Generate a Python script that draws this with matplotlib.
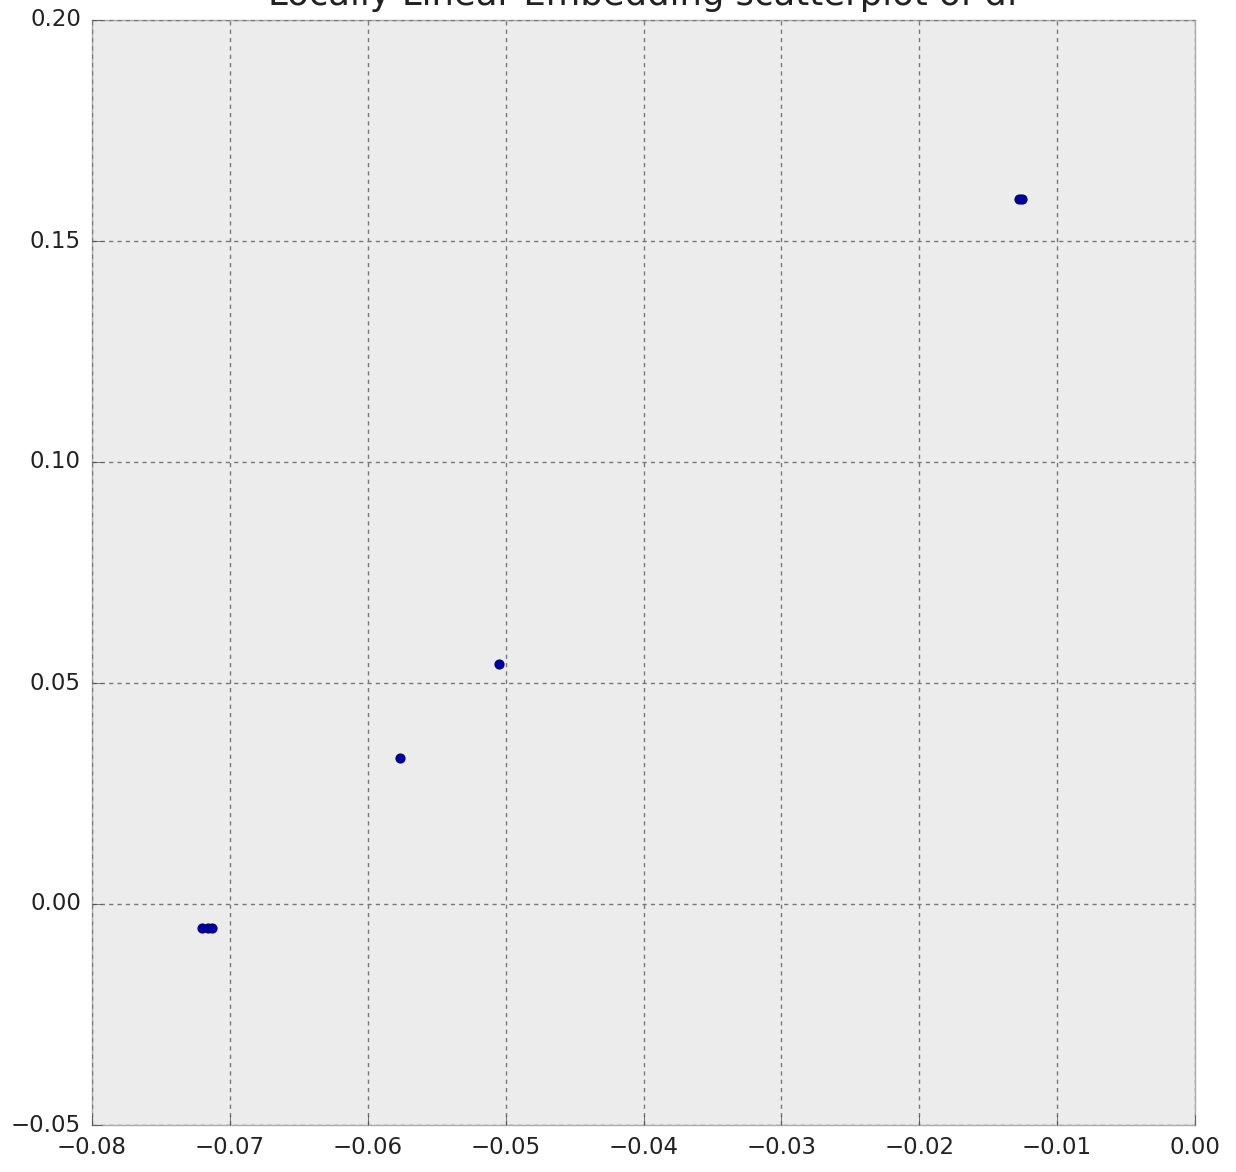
import matplotlib
matplotlib.use("Agg")
import matplotlib.pyplot as plt

# embedded coordinates
lle_x = [-0.0720, -0.0716, -0.0713, -0.05766, -0.05048, -0.0128, -0.01255]
lle_y = [-0.0054, -0.0054, -0.0054, 0.0330, 0.0543, 0.1595, 0.1595]

x_ticks = [-0.08, -0.07, -0.06, -0.05, -0.04, -0.03, -0.02, -0.01, 0.00]
y_ticks = [-0.05, 0.00, 0.05, 0.10, 0.15, 0.20]


def fmt(t):
    return ("%.2f" % t).replace("-", "\u2212")


plt.style.use("classic")
fig = plt.figure(figsize=(12.36, 11.72), dpi=100)
ax = fig.add_axes([92 / 1236, 1 - 1125 / 1172, 1103 / 1236, 1105 / 1172])
ax.set_facecolor("#ececec")

ax.scatter(lle_x, lle_y, s=40, c="#0000b0", edgecolors="#000070", linewidths=1.0, zorder=3)

ax.set_xlim(-0.08, 0.0)
ax.set_ylim(-0.05, 0.20)
ax.set_xticks(x_ticks)
ax.set_yticks(y_ticks)
ax.set_xticklabels([fmt(t) for t in x_ticks])
ax.set_yticklabels([fmt(t) for t in y_ticks])
ax.tick_params(labelsize=16.5, labelcolor="#222222", direction="in", length=7,
               color="#444444", top=False, right=False, pad=8)
ax.grid(True, linestyle=(0, (3, 3)), color="#777777", linewidth=1)
for s in ax.spines.values():
    s.set_color("#aaaaaa")
    s.set_linewidth(1)

# title sits partly above the top edge, as in the original
fig.text(0.5 * (92 + 1195) / 1236, 1 - 5 / 1172, "Locally Linear Embedding scatterplot of df",
         fontsize=25.5, ha="center", va="baseline", color="#222222")

fig.savefig("out.png", dpi=100)
